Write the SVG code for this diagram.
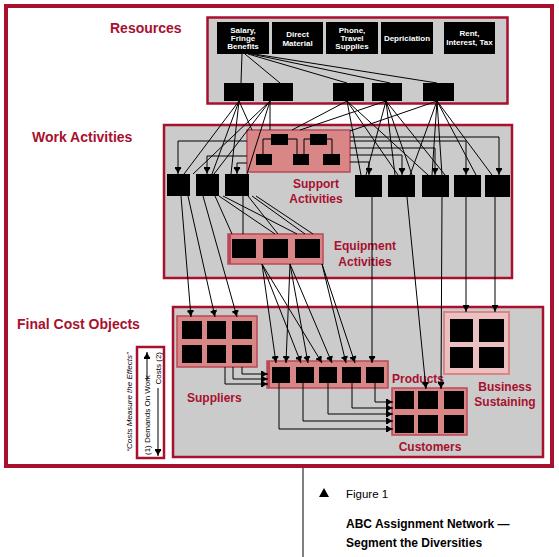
<svg xmlns="http://www.w3.org/2000/svg" width="559" height="557" viewBox="0 0 559 557">
<style>
.lbl{font-family:"Liberation Sans",Arial,sans-serif;font-weight:bold;fill:#a8102e}
.big{font-size:14px}
.mid{font-size:12px}
.wt{font-family:"Liberation Sans",Arial,sans-serif;font-weight:bold;font-size:8px;fill:#fff;text-anchor:middle}
.grp{fill:#cbcbcb;stroke:#a8102e;stroke-width:2.5}
.pink{fill:#d98686;stroke:#b94a5a;stroke-width:1.5}
.blk{fill:#000}
.c line,.c polyline{stroke:#000;stroke-width:1;fill:none}
.a{marker-end:url(#ah)}
.cap{font-family:"Liberation Sans",Arial,sans-serif;fill:#000}
.leg{font-family:"Liberation Sans",Arial,sans-serif;font-size:8px;fill:#000}
</style>
<defs>
<marker id="ah" viewBox="0 0 8 8" refX="8" refY="4" markerWidth="7" markerHeight="7" markerUnits="userSpaceOnUse" orient="auto">
<path d="M0,0.5 H2.5 V1.5 L8,4 L2.5,6.5 V7.5 H0 Z" fill="#000"/>
</marker>
</defs>
<rect x="0" y="0" width="559" height="557" fill="#fff"/>
<rect x="6" y="6" width="546" height="460" fill="#fff" stroke="#a8102e" stroke-width="4"/>
<line x1="303" y1="468" x2="303" y2="557" stroke="#000" stroke-width="1"/>

<text class="lbl big" x="110" y="33">Resources</text>
<text class="lbl big" x="32" y="142">Work Activities</text>
<text class="lbl big" x="17" y="329">Final Cost Objects</text>

<g id="resources">
<rect class="grp" x="207.5" y="17.5" width="300" height="86"/>
<rect class="blk" x="217" y="22" width="52" height="32"/>
<rect class="blk" x="272" y="22" width="51" height="32"/>
<rect class="blk" x="326" y="22" width="52" height="32"/>
<rect class="blk" x="381" y="22" width="52" height="32"/>
<rect class="blk" x="444" y="22" width="51" height="32"/>
<text class="wt" x="243" y="33">Salary,</text>
<text class="wt" x="243" y="41">Fringe</text>
<text class="wt" x="243" y="49">Benefits</text>
<text class="wt" x="297.5" y="37">Direct</text>
<text class="wt" x="297.5" y="46">Material</text>
<text class="wt" x="352" y="33">Phone,</text>
<text class="wt" x="352" y="41">Travel</text>
<text class="wt" x="352" y="49">Supplies</text>
<text class="wt" x="407" y="41">Depriciation</text>
<text class="wt" x="469.5" y="36">Rent,</text>
<text class="wt" x="469.5" y="45">Interest, Tax</text>
<rect class="blk" x="224" y="83" width="30" height="18"/>
<rect class="blk" x="263" y="83" width="30" height="18"/>
<rect class="blk" x="333" y="83" width="31" height="18"/>
<rect class="blk" x="372" y="83" width="30" height="18"/>
<rect class="blk" x="423" y="83" width="31" height="18"/>
</g>

<g id="work-activities">
<rect class="grp" x="164" y="125" width="348" height="153"/>
<rect class="blk" x="167" y="174" width="23" height="22"/>
<rect class="blk" x="196" y="174" width="23" height="22"/>
<rect class="blk" x="225" y="174" width="24" height="22"/>
<rect class="blk" x="355" y="175" width="27" height="22"/>
<rect class="blk" x="388" y="175" width="27" height="22"/>
<rect class="blk" x="422" y="175" width="27" height="22"/>
<rect class="blk" x="454" y="175" width="27" height="22"/>
<rect class="blk" x="485" y="175" width="25" height="22"/>
</g>

<g id="support-activities">
<rect class="pink" x="247" y="130" width="103" height="42"/>
<rect class="blk" x="271" y="134" width="17" height="11"/>
<rect class="blk" x="310" y="134" width="17" height="11"/>
<rect class="blk" x="256" y="154" width="16" height="11"/>
<rect class="blk" x="293" y="154" width="16" height="11"/>
<rect class="blk" x="323" y="154" width="17" height="11"/>
<polyline points="263,154 263,139 271,139" fill="none" stroke="#000"/>
<polyline points="288,139 297,139 297,154" fill="none" stroke="#000"/>
<polyline points="304,154 304,139 310,139" fill="none" stroke="#000"/>
<polyline points="327,139 332,139 332,154" fill="none" stroke="#000"/>
<text class="lbl mid" x="316" y="188" text-anchor="middle">Support</text>
<text class="lbl mid" x="316" y="203" text-anchor="middle">Activities</text>
</g>

<g id="equipment-activities">
<rect class="pink" x="228" y="234" width="95" height="30"/>
<rect x="228" y="234" width="3" height="30" fill="#b94a5a"/>
<rect class="blk" x="232" y="239" width="24" height="19"/>
<rect class="blk" x="263" y="239" width="25" height="19"/>
<rect class="blk" x="295" y="239" width="25" height="19"/>
<text class="lbl mid" x="365" y="250" text-anchor="middle">Equipment</text>
<text class="lbl mid" x="365" y="266" text-anchor="middle">Activities</text>
</g>

<g id="final-cost-objects">
<rect class="grp" x="173" y="307" width="370" height="150"/>
</g>

<g id="suppliers">
<rect class="pink" x="177" y="316" width="80" height="51"/>
<rect class="blk" x="182" y="321" width="20" height="18"/>
<rect class="blk" x="207" y="321" width="19" height="18"/>
<rect class="blk" x="232" y="321" width="20" height="18"/>
<rect class="blk" x="182" y="345" width="20" height="18"/>
<rect class="blk" x="207" y="345" width="19" height="18"/>
<rect class="blk" x="232" y="345" width="20" height="18"/>
<text class="lbl mid" x="187" y="402">Suppliers</text>
</g>

<g id="products">
<rect class="pink" x="267" y="361" width="121" height="27"/>
<rect x="267" y="361" width="3" height="27" fill="#b94a5a"/>
<rect class="blk" x="272" y="367" width="18" height="16"/>
<rect class="blk" x="296" y="367" width="18" height="16"/>
<rect class="blk" x="319" y="367" width="18" height="16"/>
<rect class="blk" x="342" y="367" width="19" height="16"/>
<rect class="blk" x="366" y="367" width="18" height="16"/>
<text class="lbl mid" x="392" y="383">Products</text>
</g>

<g id="customers">
<rect class="pink" x="392" y="388" width="75" height="47"/>
<rect class="blk" x="395" y="391" width="19" height="18"/>
<rect class="blk" x="418" y="391" width="20" height="18"/>
<rect class="blk" x="444" y="391" width="20" height="18"/>
<rect class="blk" x="395" y="415" width="19" height="18"/>
<rect class="blk" x="418" y="415" width="20" height="18"/>
<rect class="blk" x="444" y="415" width="20" height="18"/>
<text class="lbl mid" x="430" y="451" text-anchor="middle">Customers</text>
</g>

<g id="business-sustaining">
<rect x="444" y="312" width="65" height="62" fill="#ecc0c0" stroke="#d98686" stroke-width="2"/>
<rect class="blk" x="450" y="319" width="23" height="23"/>
<rect class="blk" x="479" y="319" width="25" height="23"/>
<rect class="blk" x="450" y="347" width="23" height="21"/>
<rect class="blk" x="479" y="347" width="25" height="21"/>
<text class="lbl mid" x="505" y="391" text-anchor="middle">Business</text>
<text class="lbl mid" x="505" y="406" text-anchor="middle">Sustaining</text>
</g>

<g id="connectors" class="c">
<line x1="242" y1="54" x2="241" y2="83"/>
<line x1="245" y1="54" x2="280" y2="83"/>
<line x1="248" y1="54" x2="347" y2="83"/>
<line x1="251" y1="54" x2="390" y2="83"/>
<line x1="254" y1="54" x2="437" y2="83"/>
<line x1="239" y1="101" x2="184" y2="174"/>
<line x1="239" y1="101" x2="212" y2="174"/>
<line x1="239" y1="101" x2="231" y2="174"/>
<line x1="239" y1="101" x2="252" y2="130"/>
<line x1="270" y1="101" x2="193" y2="174"/>
<line x1="270" y1="101" x2="214" y2="174"/>
<line x1="270" y1="101" x2="247" y2="174"/>
<line x1="270" y1="101" x2="270" y2="130"/>
<line x1="347" y1="101" x2="292" y2="130"/>
<line x1="347" y1="101" x2="361" y2="175"/>
<line x1="347" y1="101" x2="398" y2="175"/>
<line x1="347" y1="101" x2="428" y2="175"/>
<line x1="386" y1="101" x2="300" y2="130"/>
<line x1="386" y1="101" x2="366" y2="175"/>
<line x1="386" y1="101" x2="395" y2="175"/>
<line x1="386" y1="101" x2="412" y2="175"/>
<line x1="386" y1="101" x2="445" y2="175"/>
<line x1="437" y1="101" x2="350" y2="131"/>
<line x1="437" y1="101" x2="410" y2="175"/>
<line x1="437" y1="101" x2="432" y2="175"/>
<line x1="437" y1="101" x2="442" y2="175"/>
<line x1="437" y1="101" x2="476" y2="175"/>
<line x1="437" y1="101" x2="492" y2="175"/>
<polyline class="a" points="247,141 178,141 178,174"/>
<polyline class="a" points="247,156 207,156 207,174"/>
<polyline class="a" points="247,163 237,163 237,174"/>
<polyline class="a" points="350,137 499,137 499,175"/>
<polyline class="a" points="350,141 466,141 466,175"/>
<polyline class="a" points="350,148 435,148 435,175"/>
<polyline class="a" points="350,155 402,155 402,175"/>
<polyline class="a" points="350,162 369,162 369,175"/>
<line class="a" x1="181" y1="196" x2="191" y2="317"/>
<line class="a" x1="188" y1="196" x2="215" y2="317"/>
<line class="a" x1="203" y1="196" x2="237" y2="317"/>
<line x1="215" y1="196" x2="232" y2="234"/>
<line x1="219" y1="196" x2="275" y2="234"/>
<line x1="223" y1="196" x2="297" y2="234"/>
<line x1="243" y1="196" x2="243" y2="234"/>
<line x1="248" y1="196" x2="278" y2="234"/>
<line x1="252" y1="196" x2="305" y2="234"/>
<line x1="256" y1="196" x2="313" y2="234"/>
<line class="a" x1="262" y1="264" x2="276" y2="363"/>
<line class="a" x1="262" y1="264" x2="301" y2="363"/>
<line class="a" x1="262" y1="264" x2="322" y2="363"/>
<line class="a" x1="290" y1="264" x2="286" y2="363"/>
<line class="a" x1="290" y1="264" x2="308" y2="363"/>
<line class="a" x1="290" y1="264" x2="332" y2="363"/>
<line class="a" x1="322" y1="264" x2="346" y2="363"/>
<line class="a" x1="322" y1="264" x2="355" y2="363"/>
<line class="a" x1="372" y1="197" x2="372" y2="363"/>
<line class="a" x1="407" y1="197" x2="426" y2="389"/>
<line class="a" x1="442" y1="197" x2="441" y2="389"/>
<line class="a" x1="466" y1="197" x2="466" y2="312"/>
<line class="a" x1="495" y1="197" x2="495" y2="312"/>
<polyline class="a" points="225,367 225,384 268,384"/>
<polyline class="a" points="233,367 233,379 268,379"/>
<polyline class="a" points="242,367 242,374 268,374"/>
<polyline class="a" points="279,383 279,429 393,429"/>
<polyline class="a" points="303,383 303,421 393,421"/>
<polyline class="a" points="328,383 328,414 393,414"/>
<polyline class="a" points="352,383 352,408 393,408"/>
<polyline class="a" points="375,383 375,402 393,402"/>
</g>

<g id="legend">
<rect x="137" y="347" width="27" height="111" fill="#fff" stroke="#a8102e" stroke-width="2.5"/>
<line class="a" x1="147" y1="380" x2="147" y2="352" stroke="#000" stroke-width="1"/>
<text class="leg" transform="translate(150,455) rotate(-90)">(1) Demands On Work</text>
<text class="leg" transform="translate(160.5,352) rotate(-90)" text-anchor="end">Costs (2)</text>
<line class="a" x1="158" y1="388" x2="158" y2="456" stroke="#000" stroke-width="1"/>
<text class="leg" font-size="9" font-style="italic" transform="translate(132,402) rotate(-90)" text-anchor="middle">“Costs Measure the Effects”</text>
</g>

<g id="caption">
<path d="M319,497 L324,488 L329,497 Z" fill="#000"/>
<text class="cap" x="346" y="498" font-size="11.5" fill="#333">Figure 1</text>
<text class="cap" x="346" y="528" font-size="12" font-weight="bold">ABC Assignment Network —</text>
<text class="cap" x="346" y="547" font-size="12" font-weight="bold">Segment the Diversities</text>
</g>
</svg>
